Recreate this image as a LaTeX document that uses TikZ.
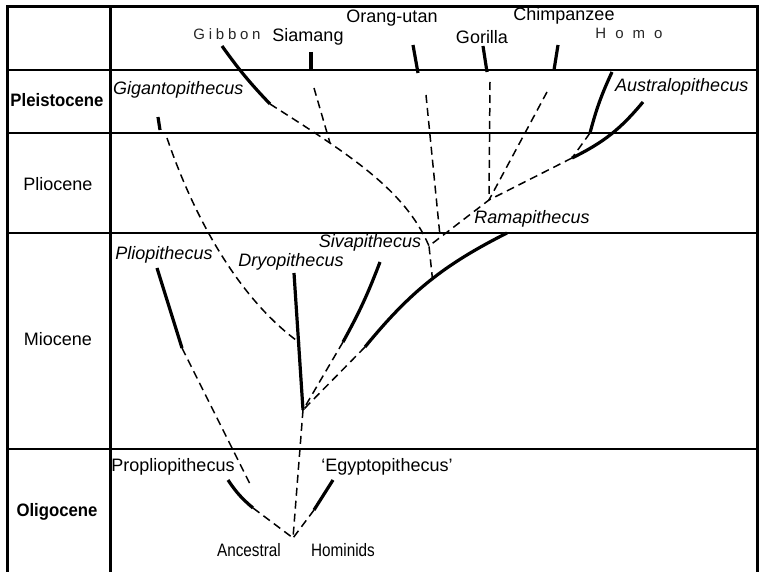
\documentclass[tikz,border=0pt]{standalone}
\usepackage{fontspec}
\setmainfont{Liberation Sans}
\begin{document}
\begin{tikzpicture}[x=1pt, y=-1pt,
    lineage/.style={line width=3.2pt},
    link/.style={line width=1.5pt, dash pattern=on 8pt off 5pt},
    period/.style={font=\fontsize{18}{20}\selectfont, inner sep=0pt},
    boldperiod/.style={font=\fontsize{18}{20}\selectfont\bfseries, inner sep=0pt, xscale=0.93},
    taxon/.style={font=\fontsize{18}{20}\selectfont\itshape, inner sep=0pt},
    living/.style={font=\fontsize{18}{20}\selectfont, inner sep=0pt},
    spaced/.style={font=\fontsize{15}{17}\selectfont\addfontfeature{LetterSpace=#1}, inner sep=0pt, text=black!85},
    narrow/.style={font=\fontsize{18}{20}\selectfont, inner sep=0pt, xscale=0.85}]

    % Fix page size
    \useasboundingbox (0,0) rectangle (761,572);

    % Draw table frame
    \draw[line width=3pt] (7,572) -- (7,7) -- (757,7) -- (757,572);
    \draw[line width=3pt] (110,7) -- (110,572);
    \foreach \y in {70,133,233,449}
        \draw[line width=2.6pt] (7,\y) -- (757,\y);

    % Label periods
    \node[boldperiod] (pleist) at (57,100) {Pleistocene};
    \node[period] (plioc) at (58,184) {Pliocene};
    \node[period] (mioc) at (58,339) {Miocene};
    \node[boldperiod] (oligo) at (57,512) {Oligocene};

    % Label living apes
    \node[spaced=25] (gibbon) at (227,34) {Gibbon};
    \node[living] (siamang) at (308,37) {Siamang};
    \node[living] (orang) at (392,18) {Orang-utan};
    \node[living] (gorilla) at (482,37) {Gorilla};
    \node[living] (chimp) at (564,16) {Chimpanzee};
    \node[spaced=60] (homo) at (629,33) {Homo};

    % Label fossil apes
    \node[taxon, anchor=west] (giganto) at (113,90) {Gigantopithecus};
    \node[taxon, anchor=west] (australo) at (615,87) {Australopithecus};
    \node[taxon] (rama) at (532,219) {Ramapithecus};
    \node[taxon] (siva) at (370,243) {Sivapithecus};
    \node[taxon] (plio) at (164,255) {Pliopithecus};
    \node[taxon] (dryo) at (291,262) {Dryopithecus};
    \node[living] (propl) at (173,467) {Propliopithecus};
    \node[living] (egypt) at (387,467) {`Egyptopithecus'};
    \node[narrow] (anc) at (249,550) {Ancestral};
    \node[narrow] (homin) at (343,550) {Hominids};

    % Define coordinates for the living branches
    \coordinate (G1) at (222,46);   \coordinate (G2) at (270,104);
    \coordinate (S1) at (311,52);   \coordinate (S2) at (311,70);
    \coordinate (S3) at (314,88);   \coordinate (S4) at (330,143);
    \coordinate (O1) at (413,45);   \coordinate (O2) at (418,73);
    \coordinate (O3) at (426,95);   \coordinate (O4) at (440,236);
    \coordinate (R1) at (483,46);   \coordinate (R2) at (487,72);
    \coordinate (R3) at (490,82);
    \coordinate (C1) at (558,45);   \coordinate (C2) at (554,70);
    \coordinate (C3) at (547,92);
    \coordinate (H1) at (612,72);   \coordinate (H2) at (590,133);
    \coordinate (A1) at (643,102);  \coordinate (A2) at (572,158);

    % Define coordinates for the fossil branches
    \coordinate (ramaFork) at (489,200);
    \coordinate (sivaFork) at (429,246);
    \coordinate (ramaMid) at (433,284);
    \coordinate (M1) at (365,347);  \coordinate (M2) at (507,233);
    \coordinate (V1) at (380,262);  \coordinate (V2) at (343,342);
    \coordinate (D1) at (294,273);  \coordinate (D2) at (303,410);
    \coordinate (Dj) at (300,343);
    \coordinate (T1) at (158,117);  \coordinate (T2) at (160,130);
    \coordinate (P1) at (157,268);  \coordinate (P2) at (182,348);
    \coordinate (P3) at (250,484);
    \coordinate (Q1) at (228,480);  \coordinate (Q2) at (253,508);
    \coordinate (E1) at (333,480);  \coordinate (E2) at (314,510);
    \coordinate (root) at (293,538);

    % Draw known ranges
    \draw[lineage] (G1) to[bend right=4] (G2);
    \draw[lineage] (S1) -- (S2);
    \draw[lineage] (O1) -- (O2);
    \draw[lineage] (R1) -- (R2);
    \draw[lineage] (C1) -- (C2);
    \draw[lineage] (H1) to[bend right=5] (H2);
    \draw[lineage] (A1) to[bend left=12] (A2);
    \draw[lineage] (M1) to[bend left=12] (M2);
    \draw[lineage] (V1) to[bend left=4] (V2);
    \draw[lineage] (D1) -- (D2);
    \draw[lineage] (T1) -- (T2);
    \draw[lineage] (P1) -- (P2);
    \draw[lineage] (Q1) to[bend right=8] (Q2);
    \draw[lineage] (E1) -- (E2);

    % Draw inferred links
    \draw[link] (G2) .. controls (350,155) and (405,190) .. (sivaFork);
    \draw[link] (S3) -- (S4);
    \draw[link] (O3) -- (O4);
    \draw[link] (R3) -- (ramaFork);
    \draw[link] (C3) -- (ramaFork);
    \draw[link] (H2) -- (A2);
    \draw[link] (A2) -- (ramaFork) -- (sivaFork) -- (ramaMid);
    \draw[link] (M1) -- (D2);
    \draw[link] (V2) -- (D2);
    \draw[link] (D2) -- (root);
    \draw[link] (T2) ++(7,8) .. controls (195,220) and (240,300) .. (Dj);
    \draw[link] (P2) -- (P3);
    \draw[link] (Q2) -- (root);
    \draw[link] (E2) -- (root);

\end{tikzpicture}
\end{document}
